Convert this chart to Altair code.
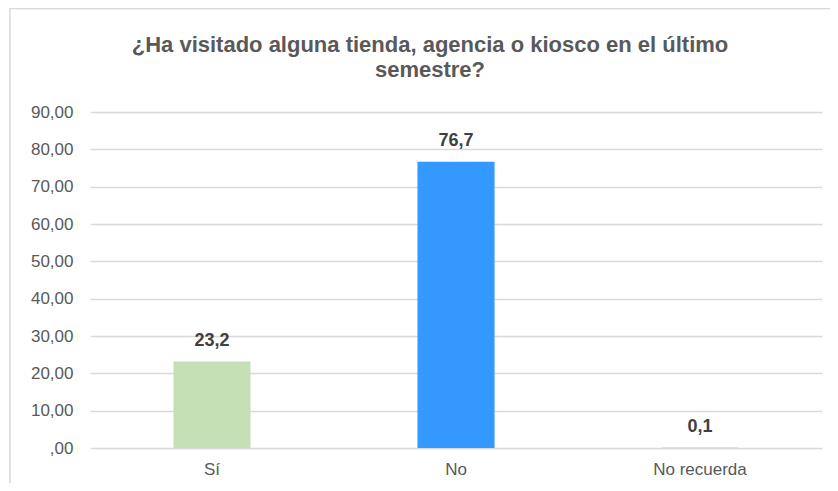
import altair as alt
import pandas as pd

categories = ["Sí", "No", "No recuerda"]
values = [23.2, 76.7, 0.1]
colors = ["#C5E0B4", "#3399FF", "#A5A5A5"]
y_ticks = [0, 10, 20, 30, 40, 50, 60, 70, 80, 90]
title_lines = ["¿Ha visitado alguna tienda, agencia o kiosco en el último", "semestre?"]

df = pd.DataFrame({"cat": categories, "v": values, "color": colors})

FONT = "Liberation Sans"

x_enc = alt.X("cat:N", sort=categories, title=None,
              scale=alt.Scale(paddingInner=0.684, paddingOuter=0.342),
              axis=alt.Axis(labelFontSize=17, labelColor="#595959", labelFont=FONT,
                            labelPadding=13, ticks=False, domain=False, grid=False,
                            labelAngle=0))
y_enc = alt.Y("v:Q", title=None,
              scale=alt.Scale(domain=[0, 90], nice=False),
              axis=alt.Axis(values=y_ticks, labelFontSize=17, labelColor="#595959",
                            labelFont=FONT, labelPadding=17, ticks=False, domain=False,
                            labelOverlap=False,
                            gridColor="#D9D9D9", gridWidth=1.3,
                            labelExpr="datum.value == 0 ? ',00' : replace(format(datum.value, '.2f'), '.', ',')"))

base = alt.Chart(df).encode(x=x_enc, y=y_enc)

frame = alt.Chart(df).mark_rect(fill="transparent", fillOpacity=0, stroke="#D9D9D9", strokeWidth=1.5).encode(
    x=alt.value(-80), x2=alt.value(780), y=alt.value(-103.5), y2=alt.value(420)
).transform_filter("datum.cat == 'Sí'")

bars = base.mark_bar().encode(
    color=alt.Color("color:N", scale=None, legend=None),
)

labels = base.mark_text(fontSize=18, fontWeight="bold", color="#404040", font=FONT,
                        baseline="alphabetic", dy=-15.5).transform_calculate(
    label="replace(format(datum.v, '.1f'), '.', ',')"
).encode(text="label:N")

chart = alt.layer(bars, labels, frame).properties(
    width=732, height=336,
    title=alt.TitleParams(text=title_lines, fontSize=22, fontWeight="bold", color="#595959",
                          font=FONT, anchor="middle", lineHeight=25, offset=0, dx=-26, dy=74),
    autosize=alt.AutoSizeParams(type="none"),
    padding={"left": 82, "top": 104, "right": 8, "bottom": 35},
    background="white",
).configure_view(stroke=None)

chart.save("out.html", embed_options={"renderer": "svg", "actions": False})
